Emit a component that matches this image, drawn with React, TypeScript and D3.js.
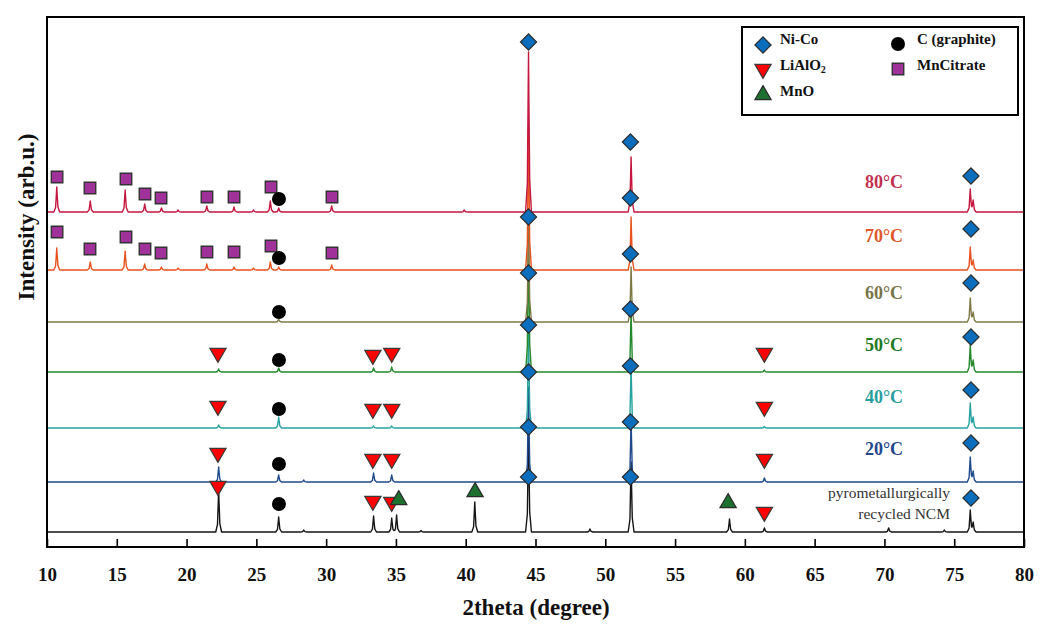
import React, { useEffect, useRef } from "react";
import * as d3 from "d3";

type Peak = [number, number];

// 2theta ticks
const xTicks = [10, 15, 20, 25, 30, 35, 40, 45, 50, 55, 60, 65, 70, 75, 80];

// stacked patterns, bottom to top (offset = vertical shift of each trace)
const seriesLabels = ["pyrometallurgically recycled NCM", "20°C", "40°C", "50°C", "60°C", "70°C", "80°C"];
const seriesOffsets = [15, 65, 119, 175, 225, 277, 335];

// [2theta, peak height above the trace baseline]
const peaksNCM: Peak[] = [[22.3, 42], [26.6, 15], [28.4, 2], [33.4, 16], [34.7, 14], [35.05, 17], [36.8, 1.5], [40.65, 30], [44.5, 100], [48.9, 3], [51.85, 70], [58.9, 13], [61.4, 4], [70.3, 4], [74.3, 2], [76.15, 22], [76.36, 10]];
const peaks20: Peak[] = [[22.3, 15], [26.6, 7], [28.4, 2], [33.4, 9], [34.7, 7], [44.5, 95], [51.85, 62], [61.4, 4], [76.15, 25], [76.36, 11]];
const peaks40: Peak[] = [[22.3, 3], [26.6, 11], [33.4, 2], [34.7, 2], [44.5, 100], [51.85, 62], [61.4, 1.5], [76.15, 25], [76.36, 11]];
const peaks50: Peak[] = [[22.3, 3], [26.6, 4], [33.4, 4], [34.7, 5], [44.5, 140], [51.85, 60], [61.4, 2], [76.15, 27], [76.36, 12]];
const peaks60: Peak[] = [[26.6, 3], [44.5, 110], [51.85, 55], [76.15, 24], [76.36, 10]];
const peaks70: Peak[] = [[10.7, 22], [13.1, 8], [15.6, 19], [17.0, 6], [18.2, 3], [19.4, 2], [21.45, 6], [23.4, 3], [24.8, 2], [26.0, 8], [26.6, 3], [30.4, 5], [44.5, 146], [51.85, 53], [76.15, 23], [76.36, 10]];
const peaks80: Peak[] = [[10.7, 25], [13.1, 11], [15.6, 22], [17.0, 8], [18.2, 4], [19.4, 2], [21.45, 6], [23.4, 5], [24.8, 2], [26.0, 11], [26.6, 4], [30.4, 6], [39.9, 2], [44.5, 160], [51.85, 55], [76.15, 23], [76.36, 12]];
const seriesPeaks = [peaksNCM, peaks20, peaks40, peaks50, peaks60, peaks70, peaks80];

// phase markers: [2theta, level]
const markNiCo: Peak[] = [
  [44.5, 505], [44.5, 330], [44.5, 274], [44.5, 222], [44.5, 175], [44.5, 120], [44.5, 70],
  [51.8, 405], [51.8, 349], [51.8, 293], [51.8, 238], [51.8, 181], [51.8, 125], [51.8, 70],
  [76.2, 371], [76.2, 318], [76.2, 264], [76.2, 210], [76.2, 157], [76.2, 104], [76.2, 49],
];
const markLiAlO2: Peak[] = [
  [22.25, 194], [22.25, 141], [22.25, 94], [22.25, 61],
  [33.35, 192], [33.35, 138], [33.35, 88], [33.35, 46],
  [34.7, 194], [34.7, 138], [34.7, 88], [34.7, 45],
  [61.4, 194], [61.4, 140], [61.4, 88], [61.4, 35],
];
const markMnO: Peak[] = [[35.2, 47], [40.67, 55], [58.8, 44]];
const markGraphite: Peak[] = [[26.62, 348], [26.62, 289], [26.62, 235], [26.62, 187], [26.62, 138], [26.62, 83], [26.62, 43]];
const markMnCitrate: Peak[] = [
  [10.72, 370], [13.08, 359], [15.66, 368], [17.02, 353], [18.17, 349], [21.46, 350], [23.4, 350], [26.05, 360], [30.42, 350],
  [10.72, 315], [13.08, 298], [15.66, 310], [17.02, 298], [18.17, 294], [21.46, 295], [23.4, 295], [26.05, 301], [30.42, 294],
];

const lineColors = ["#151515", "#1f4a8c", "#27a2a0", "#23892a", "#7f7a45", "#e8521f", "#c4163f"];
const labelColors = ["#333", "#24478a", "#2a9e9e", "#1f7a22", "#78754a", "#e0582a", "#c2304f"];

const FONT = "'Liberation Serif', 'DejaVu Serif', serif";

const App: React.FC = () => {
  const svgRef = useRef<SVGSVGElement>(null);
  const width = 1051;
  const height = 640;
  const plot = { left: 47, right: 1024, top: 17, bottom: 547 };

  useEffect(() => {
    const x = d3.scaleLinear().domain([10, 80]).range([plot.left, plot.right]);
    const y = d3.scaleLinear().domain([0, 530]).range([plot.bottom, plot.top]);

    const svg = d3.select(svgRef.current);
    svg.selectAll("*").remove();

    // each peak is drawn as a narrow piecewise-linear spike; overlapping spikes add up
    const spike = (p: number, h: number): [number, number][] => {
      const w = 0.21;
      return [[p - w, 0], [p - w * 0.4, h * 0.18], [p - w * 0.12, h * 0.75], [p, h], [p + w * 0.12, h * 0.72], [p + w * 0.4, h * 0.2], [p + w, 0]];
    };
    const valueAt = (shape: [number, number][], xv: number) => {
      if (xv <= shape[0][0] || xv >= shape[shape.length - 1][0]) return 0;
      for (let k = 1; k < shape.length; k++) {
        if (xv <= shape[k][0]) {
          const [x0, y0] = shape[k - 1];
          const [x1, y1] = shape[k];
          return y0 + ((y1 - y0) * (xv - x0)) / (x1 - x0);
        }
      }
      return 0;
    };
    const traceFromPeaks = (peaks: Peak[]) => {
      const shapes = peaks.map(([p, h]) => spike(p, h));
      const xs = Array.from(new Set([10, 80, ...shapes.flat().map((d) => d[0])])).sort((a, b) => a - b);
      return xs.map((xv) => [xv, d3.sum(shapes, (s) => valueAt(s, xv))] as [number, number]);
    };

    svg.append("clipPath").attr("id", "plotclip")
      .append("rect")
      .attr("x", plot.left).attr("y", plot.top)
      .attr("width", plot.right - plot.left).attr("height", plot.bottom - plot.top);

    const traces = svg.append("g").attr("clip-path", "url(#plotclip)");
    seriesPeaks.forEach((peaks, i) => {
      const off = seriesOffsets[i];
      const line = d3.line<[number, number]>()
        .x((d) => x(d[0]))
        .y((d) => y(d[1] + off));
      traces.append("path")
        .datum(traceFromPeaks(peaks))
        .attr("fill", "none")
        .attr("stroke", lineColors[i])
        .attr("stroke-width", 1.4)
        .attr("stroke-linejoin", "round")
        .attr("d", line as any);
    });

    // frame + bottom axis
    svg.append("rect")
      .attr("x", plot.left).attr("y", plot.top)
      .attr("width", plot.right - plot.left).attr("height", plot.bottom - plot.top)
      .attr("fill", "none").attr("stroke", "#000").attr("stroke-width", 2);

    const xAxis = svg.append("g")
      .attr("transform", `translate(0,${plot.bottom})`)
      .call(d3.axisBottom(x).tickValues(xTicks).tickSizeInner(-8).tickSizeOuter(0).tickPadding(21).tickFormat(d3.format("d")));
    xAxis.select(".domain").remove();
    xAxis.selectAll(".tick line").attr("stroke", "#000").attr("stroke-width", 1.6);
    xAxis.selectAll(".tick text")
      .attr("font-family", FONT).attr("font-weight", "bold").attr("font-size", 19).attr("fill", "#111");

    svg.append("text")
      .attr("x", 536).attr("y", 615)
      .attr("text-anchor", "middle")
      .attr("font-family", FONT).attr("font-weight", "bold").attr("font-size", 23).attr("fill", "#111")
      .text("2theta (degree)");

    svg.append("text")
      .attr("transform", "translate(34,217) rotate(-90)")
      .attr("text-anchor", "middle")
      .attr("font-family", FONT).attr("font-weight", "bold").attr("font-size", 23).attr("fill", "#111")
      .text("Intensity (arb.u.)");

    // series labels
    const labelY = [0, 449, 397, 345, 293, 236, 182];
    seriesLabels.forEach((lab, i) => {
      if (i === 0) return;
      svg.append("text")
        .attr("x", 884).attr("y", labelY[i])
        .attr("text-anchor", "middle").attr("dominant-baseline", "central")
        .attr("font-family", FONT).attr("font-weight", "bold").attr("font-size", 18)
        .attr("fill", labelColors[i])
        .text(lab);
    });
    const ncmWords = ["pyrometallurgically", "recycled NCM"];
    ncmWords.forEach((t, j) => {
      svg.append("text")
        .attr("x", 950).attr("y", 492 + j * 21)
        .attr("text-anchor", "end").attr("dominant-baseline", "central")
        .attr("font-family", FONT).attr("font-size", 15.5).attr("fill", "#333")
        .text(t);
    });

    // marker shapes
    const diamond = d3.symbol().type(d3.symbolSquare).size(130)();
    const triangle = d3.symbol().type(d3.symbolTriangle).size(115)();
    const square = d3.symbol().type(d3.symbolSquare).size(132)();

    const drawDiamond = (g: any, cx: number, cy: number) =>
      g.append("path").attr("d", diamond)
        .attr("transform", `translate(${cx},${cy}) rotate(45)`)
        .attr("fill", "#0a6ebd").attr("stroke", "#2b2b2b").attr("stroke-width", 1.2);
    const drawDown = (g: any, cx: number, cy: number) =>
      g.append("path").attr("d", triangle)
        .attr("transform", `translate(${cx},${cy}) rotate(180)`)
        .attr("fill", "#ff0000").attr("stroke", "#3a3a3a").attr("stroke-width", 1.2);
    const drawUp = (g: any, cx: number, cy: number) =>
      g.append("path").attr("d", triangle)
        .attr("transform", `translate(${cx},${cy})`)
        .attr("fill", "#1e7030").attr("stroke", "#2b2b2b").attr("stroke-width", 1.2);
    const drawCircle = (g: any, cx: number, cy: number) =>
      g.append("circle").attr("cx", cx).attr("cy", cy).attr("r", 7).attr("fill", "#000");
    const drawSquare = (g: any, cx: number, cy: number) =>
      g.append("path").attr("d", square)
        .attr("transform", `translate(${cx},${cy})`)
        .attr("fill", "#a0309a").attr("stroke", "#333").attr("stroke-width", 1.4);

    const marks = svg.append("g");
    markMnCitrate.forEach(([p, v]) => drawSquare(marks, x(p), y(v)));
    markGraphite.forEach(([p, v]) => drawCircle(marks, x(p), y(v)));
    markLiAlO2.forEach(([p, v]) => drawDown(marks, x(p), y(v)));
    markMnO.forEach(([p, v]) => drawUp(marks, x(p), y(v)));
    markNiCo.forEach(([p, v]) => drawDiamond(marks, x(p), y(v)));

    // legend
    const lg = svg.append("g");
    lg.append("rect")
      .attr("x", 742).attr("y", 27).attr("width", 276).attr("height", 88)
      .attr("fill", "#fff").attr("stroke", "#000").attr("stroke-width", 2);
    drawDiamond(lg, 763, 45);
    drawDown(lg, 763, 69);
    drawUp(lg, 763, 95);
    drawCircle(lg, 898, 44);
    drawSquare(lg, 898, 69);
    const legText = (tx: number, ty: number) =>
      lg.append("text").attr("x", tx).attr("y", ty)
        .attr("dominant-baseline", "central")
        .attr("font-family", FONT).attr("font-weight", "bold").attr("font-size", 15).attr("fill", "#111");
    legText(780, 39).text("Ni-Co");
    const li = legText(780, 65);
    li.append("tspan").text("LiAlO");
    li.append("tspan").attr("font-size", 10).attr("dy", 4).text("2");
    legText(780, 91).text("MnO");
    legText(917, 39).text("C (graphite)");
    legText(917, 65).text("MnCitrate");
  }, []);

  return (
    <div style={{ position: "absolute", left: 0, top: 0 }}>
      <svg ref={svgRef} width={width} height={height} viewBox={`0 0 ${width} ${height}`} style={{ display: "block", background: "#fff" }} />
    </div>
  );
};

export default App;
